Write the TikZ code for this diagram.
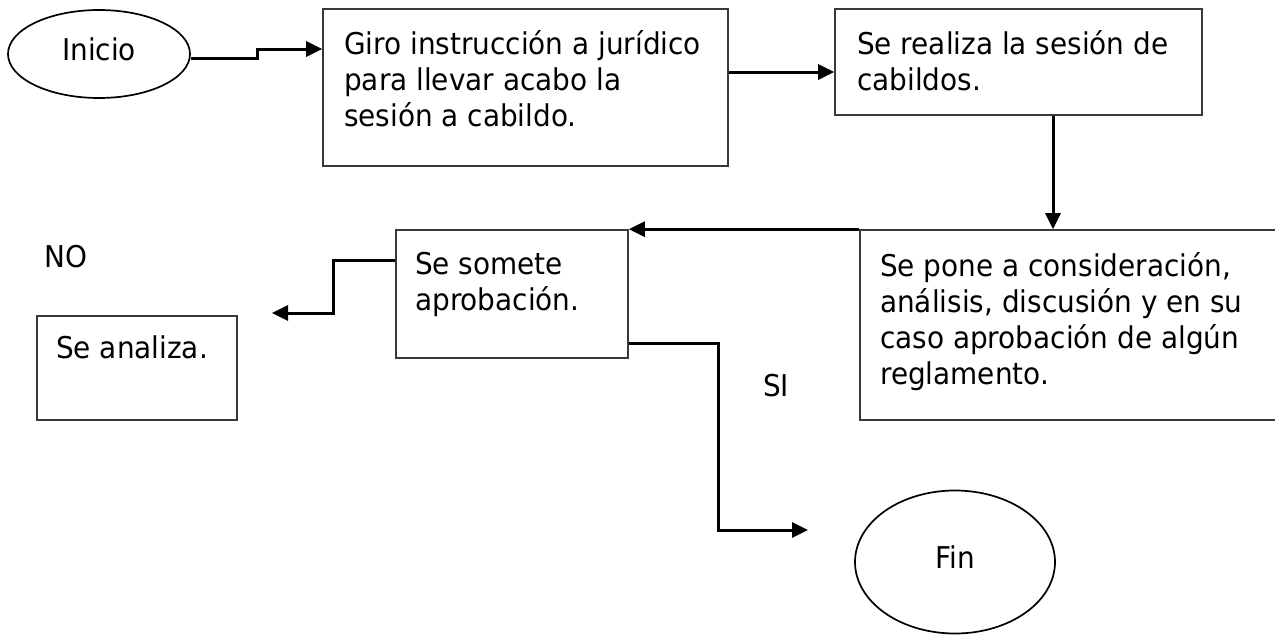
\documentclass[tikz,border=0pt]{standalone}
\usepackage{fontspec}
\setmainfont{DejaVu Sans}[FakeStretch=0.93]
\usetikzlibrary{arrows.meta,shapes.geometric}
\begin{document}
\begin{tikzpicture}[x=1pt,y=-1pt,
  box/.style={draw=black!78, line width=1.6pt, rectangle, inner sep=0pt},
  oval/.style={draw, line width=1.7pt, ellipse, inner sep=0pt},
  txt/.style={anchor=north west, align=left, inner sep=0pt, font=\fontsize{30}{36}\selectfont},
  lbl/.style={inner sep=0pt, font=\fontsize{30}{36}\selectfont},
  conn/.style={line width=3pt, -{Triangle[length=16pt,width=15pt]}}]
\useasboundingbox (0,0) rectangle (1275,635);
\node[oval, minimum width=182pt, minimum height=88pt] (inicio) at (99,54) {};
\node[lbl] (inicioT) at (99,49) {Inicio};
\node[box, minimum width=405pt, minimum height=157pt] (b1) at (525.5,87.5) {};
\node[txt] (t1) at (344,30) {Giro instrucción a jurídico\\para llevar acabo la\\sesión a cabildo.};
\node[box, minimum width=367pt, minimum height=106pt] (b2) at (1018.5,62) {};
\node[txt] (t2) at (857,30) {Se realiza la sesión de\\cabildos.};
\node[box, minimum width=435pt, minimum height=190pt] (b3) at (1077.5,325) {};
\node[txt] (t3) at (880,252) {Se pone a consideración,\\análisis, discusión y en su\\caso aprobación de algún\\reglamento.};
\node[box, minimum width=232pt, minimum height=128pt] (b4) at (512,294) {};
\node[txt] (t4) at (415,252) {Se somete\\aprobación.};
\node[box, minimum width=200pt, minimum height=104pt] (b5) at (137,368) {};
\node[txt] (t5) at (56,336) {Se analiza.};
\node[oval, minimum width=200pt, minimum height=143pt] (fin) at (955,562) {};
\node[lbl] (finT) at (955,557) {Fin};
\node[lbl] (no) at (66,257) {NO};
\node[lbl] (si) at (776,386) {SI};
\coordinate (noEnd) at (272,313);
\coordinate (siEnd) at (808,530);
\draw[conn] (inicio.east |- 0,58) -- (257,58) -- (257,49) -- (b1.west |- 0,49);
\draw[conn] (b1.east |- 0,72) -- (b2.west |- 0,72);
\draw[conn] (b2.south -| 1053,0) -- (b3.north -| 1053,0);
\draw[conn] (b3.north west) -- (b4.north east);
\draw[conn] (b4.west |- 0,260) -- (333,260) -- (333,313) -- (noEnd);
\draw[conn] (b4.east |- 0,343) -- (718,343) -- (718,530) -- (siEnd);
\end{tikzpicture}
\end{document}
